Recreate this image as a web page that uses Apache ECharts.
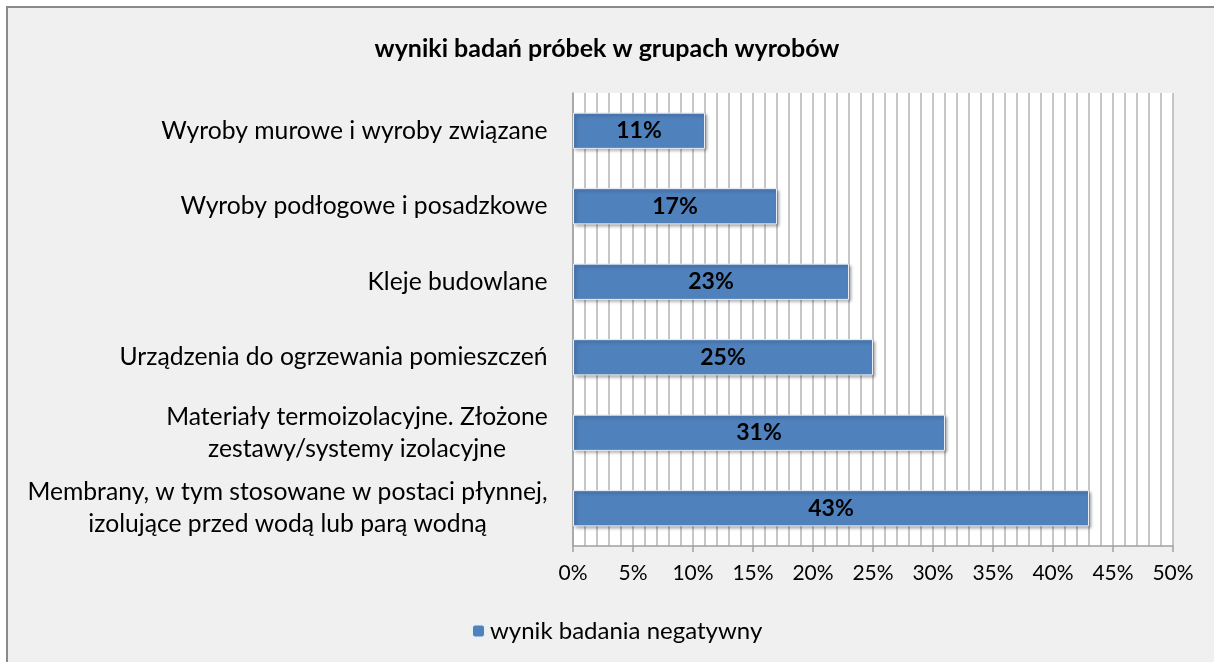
<!DOCTYPE html>
<html>
<head>
    <meta charset="UTF-8">
    <title>wyniki badań</title>
    <style type="text/css">
        html, body { margin: 0; padding: 0; background: #fff; }
        #chart { width: 1214px; height: 662px; }
    </style>
    <script type="text/javascript" src="https://cdn.jsdelivr.net/npm/echarts@6/dist/echarts.min.js"></script>
</head>
<body>
    <div id="chart"></div>
<script type="text/javascript">
// dane
var categories = [
    'Wyroby murowe i wyroby związane',
    'Wyroby podłogowe i posadzkowe',
    'Kleje budowlane',
    'Urządzenia do ogrzewania pomieszczeń',
    'Materiały termoizolacyjne. Złożone\nzestawy/systemy izolacyjne',
    'Membrany, w tym stosowane w postaci płynnej,\nizolujące przed wodą lub parą wodną'
];
var negatywny = [11, 17, 23, 25, 31, 43];
var tickMax = 50;
var tickStep = 5;

var FONT = 'Lato, "Open Sans", sans-serif';
var LABEL_SIZE = 24.7;

// szerokosc najdluzszej linii, zeby wysrodkowac wiersze w etykiecie
var ctx = document.createElement('canvas').getContext('2d');
ctx.font = LABEL_SIZE + 'px ' + FONT;
function lineWidth(s) { return Math.ceil(ctx.measureText(s).width) + 2; }

var rich = {};
categories.forEach(function (c, i) {
    var lines = c.split('\n');
    var w = Math.max.apply(null, lines.map(lineWidth));
    rich['c' + i] = { width: w, align: 'center', fontSize: LABEL_SIZE, fontFamily: FONT, color: '#000', lineHeight: 32 };
});

var chart = echarts.init(document.getElementById('chart'));
chart.setOption({
    backgroundColor: '#ffffff',
    animation: false,
    graphic: [{
        type: 'rect', z: -10,
        shape: { x: 7, y: 7, width: 1230, height: 680 },
        style: { fill: '#f0f0f0', stroke: '#8a8a8a', lineWidth: 2 }
    }],
    title: {
        text: 'wyniki badań próbek w grupach wyrobów',
        left: 'center', top: 31,
        textStyle: { fontFamily: FONT, fontWeight: 'bold', fontSize: 25, color: '#000' }
    },
    legend: {
        data: ['wynik badania negatywny'],
        left: 466, top: 614,
        itemWidth: 13, itemHeight: 13, itemGap: 9,
        textStyle: { fontFamily: FONT, fontSize: 24, color: '#000' }
    },
    grid: { left: 573, right: 41, top: 93, bottom: 116, backgroundColor: '#fff', show: true, borderWidth: 0 },
    xAxis: {
        type: 'value', min: 0, max: tickMax, interval: tickStep,
        axisLine: { show: true, lineStyle: { color: '#a0a0a0', width: 1.5 } },
        axisTick: { show: true, length: 6, lineStyle: { color: '#a0a0a0', width: 1.5 } },
        axisLabel: { formatter: '{value}%', fontFamily: FONT, fontSize: 21, color: '#000', margin: 17 },
        splitLine: { show: true, lineStyle: { color: '#b4b4b4', width: 1.5 } },
        minorTick: { show: false, splitNumber: 5 },
        minorSplitLine: { show: true, lineStyle: { color: '#b4b4b4', width: 1.5 } }
    },
    yAxis: {
        type: 'category', inverse: true, data: categories,
        axisLine: { show: true, lineStyle: { color: '#a0a0a0', width: 1.5 } },
        axisTick: { show: false },
        axisLabel: {
            margin: 24,
            formatter: function (v, i) {
                return v.split('\n').map(function (l) { return '{c' + i + '|' + l + '}'; }).join('\n');
            },
            rich: rich
        }
    },
    series: [{
        name: 'wynik badania negatywny',
        type: 'bar',
        data: negatywny,
        barWidth: '48%',
        itemStyle: {
            color: '#4f81bd',
            borderColor: '#e8eef7', borderWidth: 1,
            shadowColor: 'rgba(0,0,0,0.35)', shadowBlur: 3, shadowOffsetX: 2, shadowOffsetY: 2
        },
        label: {
            show: true, position: 'inside', formatter: '{c}%',
            fontFamily: FONT, fontWeight: 'bold', fontSize: 23, color: '#000'
        }
    }]
});
</script>
</body>
</html>
